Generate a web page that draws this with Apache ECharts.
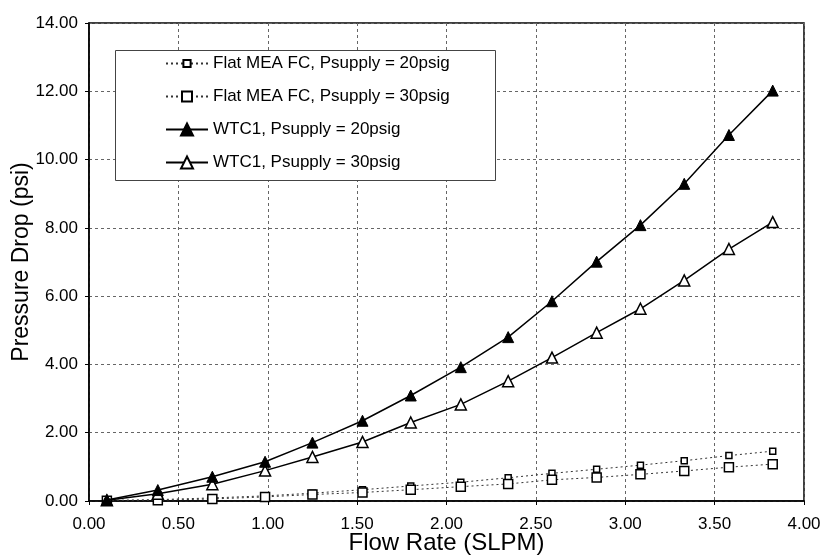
<!DOCTYPE html>
<html><head><meta charset="utf-8">
<script src="https://cdn.jsdelivr.net/npm/echarts@6/dist/echarts.min.js"></script>
<style>html,body{margin:0;padding:0;background:#fff}#c{width:823px;height:555px}</style>
</head><body><div id="c"></div>
<script>
const flowRate = [0.10, 0.385, 0.69, 0.985, 1.25, 1.53, 1.80, 2.08, 2.345, 2.59, 2.84, 3.085, 3.33, 3.58, 3.825];
const flatMEA20 = [0.02, 0.04, 0.09, 0.15, 0.23, 0.33, 0.44, 0.55, 0.68, 0.81, 0.93, 1.05, 1.18, 1.33, 1.46];
const flatMEA30 = [0.01, 0.02, 0.06, 0.12, 0.19, 0.25, 0.33, 0.42, 0.50, 0.62, 0.69, 0.78, 0.88, 0.99, 1.08];
const wtc20 = [0.03, 0.32, 0.71, 1.15, 1.71, 2.35, 3.09, 3.92, 4.80, 5.85, 7.01, 8.08, 9.29, 10.72, 12.02];
const wtc30 = [0.02, 0.21, 0.49, 0.89, 1.29, 1.73, 2.30, 2.83, 3.51, 4.20, 4.93, 5.63, 6.46, 7.38, 8.17];
const seriesNames = ['Flat MEA FC, Psupply = 20psig', 'Flat MEA FC, Psupply = 30psig', 'WTC1, Psupply = 20psig', 'WTC1, Psupply = 30psig'];
const xTitle = 'Flow Rate (SLPM)';
const yTitle = 'Pressure Drop (psi)';

const pairs = ys => flowRate.map((x, i) => [x, ys[i]]);
const FONT = '"Liberation Sans", Arial, sans-serif';
const gridLine = { show: true, lineStyle: { color: '#666', type: [3, 3], width: 1 } };

// legend layout (one legend component per row so each icon keeps its own marker size)
const legendIconHeights = [9, 12.5, 15, 15];
const legendRowCenters = [63.5, 96.5, 129.5, 162.5];
const legends = seriesNames.map((name, i) => ({
  orient: 'vertical', left: 165, top: legendRowCenters[i] - 8.5, padding: 0,
  itemWidth: 42, itemHeight: legendIconHeights[i], z: 5,
  textStyle: { fontFamily: FONT, fontSize: 17, color: '#000' },
  data: [name]
}));

const chart = echarts.init(document.getElementById('c'), null, { renderer: 'canvas' });
chart.setOption({
  animation: false,
  backgroundColor: '#fff',
  textStyle: { fontFamily: FONT, color: '#000' },
  grid: { left: 89, right: 19, top: 23, bottom: 54, show: true, borderColor: '#000', borderWidth: 1.5,
          containLabel: false, outerBoundsMode: 'none' },
  graphic: [{
    type: 'rect', left: 115, top: 50, z: 3,
    shape: { width: 380, height: 130 },
    style: { fill: '#fff', stroke: '#444', lineWidth: 1 }
  }],
  legend: legends,
  xAxis: {
    type: 'value', min: 0, max: 4, interval: 0.5,
    name: xTitle, nameLocation: 'middle', nameGap: 30, nameMoveOverlap: false,
    nameTextStyle: { fontFamily: FONT, fontSize: 24, color: '#000' },
    axisLine: { show: true, onZero: false, lineStyle: { color: '#000', width: 1.5 } },
    axisTick: { show: true, length: 4, lineStyle: { color: '#000' } },
    axisLabel: { fontFamily: FONT, fontSize: 17, color: '#000', margin: 15, formatter: v => v.toFixed(2) },
    splitLine: gridLine
  },
  yAxis: {
    type: 'value', min: 0, max: 14, interval: 2,
    name: yTitle, nameLocation: 'middle', nameGap: 56, nameMoveOverlap: false,
    nameTextStyle: { fontFamily: FONT, fontSize: 23, color: '#000' },
    axisLine: { show: true, lineStyle: { color: '#000', width: 1.5 } },
    axisTick: { show: true, length: 4, lineStyle: { color: '#000' } },
    axisLabel: { fontFamily: FONT, fontSize: 17, color: '#000', margin: 11, formatter: v => v.toFixed(2) },
    splitLine: gridLine
  },
  series: [
    { name: seriesNames[0], type: 'line', data: pairs(flatMEA20), symbol: 'rect', symbolSize: 6,
      lineStyle: { color: '#333', width: 1, type: [2, 3] },
      itemStyle: { color: '#fff', borderColor: '#000', borderWidth: 1.5 }, z: 2 },
    { name: seriesNames[1], type: 'line', data: pairs(flatMEA30), symbol: 'rect', symbolSize: 9,
      lineStyle: { color: '#333', width: 1, type: [2, 3] },
      itemStyle: { color: '#fff', borderColor: '#000', borderWidth: 1.5 }, z: 2 },
    { name: seriesNames[2], type: 'line', data: pairs(wtc20), symbol: 'triangle', symbolSize: 11,
      lineStyle: { color: '#000', width: 1.5 },
      itemStyle: { color: '#000', borderColor: '#000', borderWidth: 1 }, z: 4 },
    { name: seriesNames[3], type: 'line', data: pairs(wtc30), symbol: 'triangle', symbolSize: 11,
      lineStyle: { color: '#000', width: 1.5 },
      itemStyle: { color: '#fff', borderColor: '#000', borderWidth: 1.5 }, z: 3 }
  ]
});
</script>
</body></html>
